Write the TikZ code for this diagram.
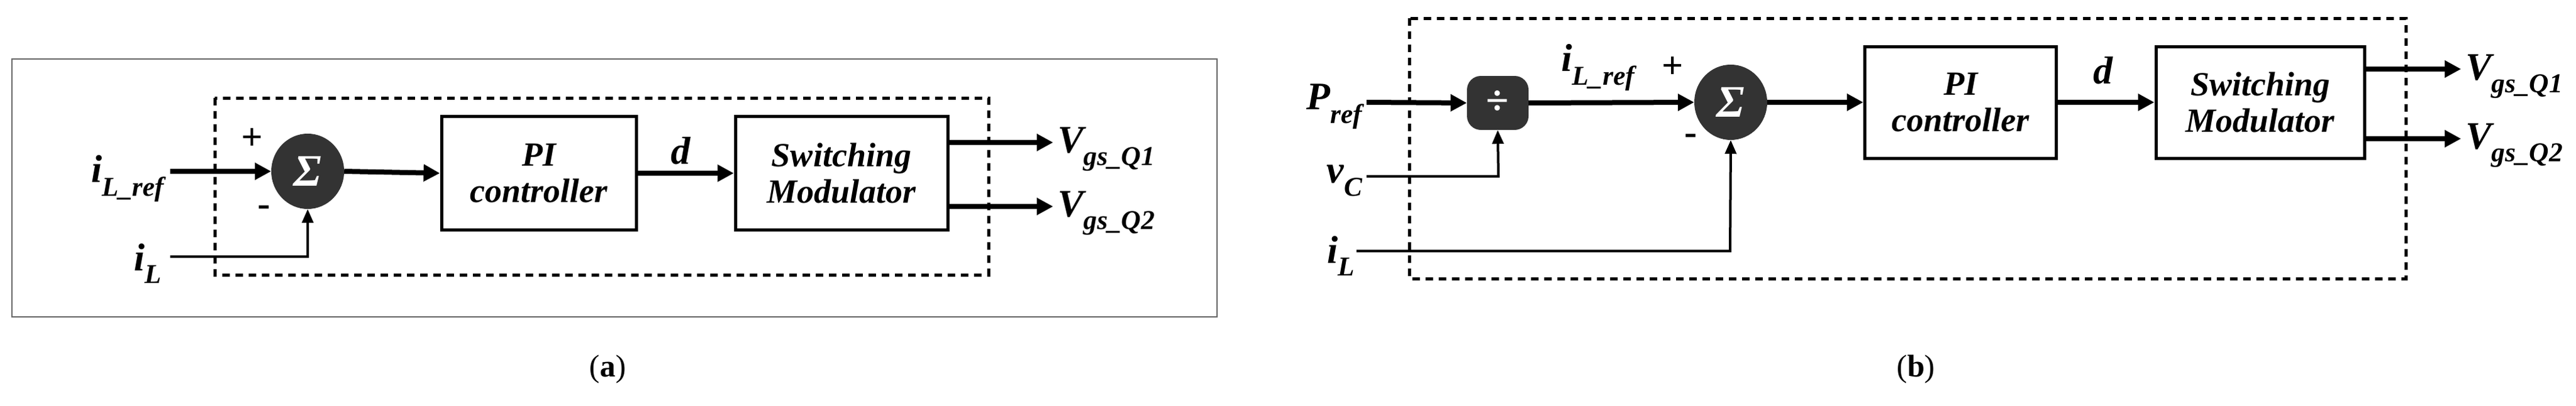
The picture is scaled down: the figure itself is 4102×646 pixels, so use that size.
\documentclass[tikz,border=0pt]{standalone}
\usepackage{fontspec}
\setmainfont{Liberation Serif}
\usetikzlibrary{arrows.meta,shapes.geometric}
\begin{document}
\begin{tikzpicture}[x=1pt,y=-1pt,
  lbl/.style={font=\fontsize{62}{62}\selectfont\bfseries\itshape, inner sep=0},
  blk/.style={draw, line width=5pt, minimum width=#1, minimum height=181pt, align=center,
     font=\fontsize{54}{58}\selectfont\bfseries\itshape},
  sig/.style={ellipse, fill=black!80, minimum width=116pt, minimum height=120pt, inner sep=0,
     text=white, font=\fontsize{72}{72}\selectfont\bfseries\itshape},
  sw/.style={line width=8pt, -{Triangle[length=26pt,width=26pt]}},
  tw/.style={line width=4pt, -{Triangle[length=22pt,width=18pt]}},
  dsh/.style={line width=5pt, dash pattern=on 12pt off 9pt},
  sgn/.style={font=\fontsize{60}{60}\selectfont\bfseries, inner sep=0},
  captxt/.style={font=\fontsize{50}{50}\selectfont, inner sep=0}]
\useasboundingbox (0,0) rectangle (4102,646);
% ---------- (a)
\draw[black!60, line width=2pt] (19,94) rectangle (1938,505);
\draw[dsh] (342,156) rectangle (1574,438);
\node[sig] (sa) at (490,273) {Σ};
\node[blk=310pt] (pia) at (858,276) {PI\\controller};
\node[blk=338pt] (sma) at (1340,276) {Switching\\Modulator};
\coordinate (ia1) at (271,273);
\coordinate (ia2) at (271,409);
\coordinate (ca) at (490,409);
\coordinate (oa1s) at (1509,227);
\coordinate (oa2s) at (1509,329);
\coordinate (oa1) at (1677,227);
\coordinate (oa2) at (1677,329);
\node[lbl, anchor=east] (lia) at (262,285) {i\textsubscript{L\_ref}};
\node[lbl, anchor=east] (lila) at (258,420) {i\textsubscript{L}};
\node[sgn] (pa) at (402,222) {+};
\node[sgn] (ma) at (420,336) {-};
\node[lbl] (da) at (1084,240) {d};
\node[lbl, anchor=west] (va1) at (1684,238) {V\textsubscript{gs\_Q1}};
\node[lbl, anchor=west] (va2) at (1684,340) {V\textsubscript{gs\_Q2}};
\draw[sw] (ia1) -- (sa.west);
\draw[tw] (ia2) -- (ca) -- (sa.south);
\draw[sw] (sa.east) -- (pia.west);
\draw[sw] (pia.east) -- (sma.west);
\draw[sw] (oa1s) -- (oa1);
\draw[sw] (oa2s) -- (oa2);
\node[captxt] (capa) at (968,588) {(\textbf{a})};
% ---------- (b)
\draw[dsh] (2244,29) rectangle (3831,444);
\node[draw=none, fill=black!80, rounded corners=22pt, minimum width=98pt, minimum height=86pt, text=white,
  font=\fontsize{66}{66}\selectfont\bfseries] (dv) at (2385,164) {÷};
\node[sig] (sb) at (2756,163) {Σ};
\node[blk=305pt, minimum height=178pt] (pib) at (3122,163) {PI\\controller};
\node[blk=332pt, minimum height=178pt] (smb) at (3599,163) {Switching\\Modulator};
\coordinate (pb) at (2176,163);
\coordinate (vb) at (2176,281);
\coordinate (vbc) at (2386,281);
\coordinate (ib) at (2160,400);
\coordinate (ibc) at (2755,400);
\coordinate (ob1s) at (3765,110);
\coordinate (ob2s) at (3765,221);
\coordinate (ob1) at (3919,110);
\coordinate (ob2) at (3919,221);
\node[lbl, anchor=east] (lpb) at (2170,170) {P\textsubscript{ref}};
\node[lbl, anchor=east] (lvb) at (2170,288) {v\textsubscript{C}};
\node[lbl, anchor=east] (lib) at (2158,408) {i\textsubscript{L}};
\node[lbl] (lirb) at (2545,108) {i\textsubscript{L\_ref}};
\node[sgn] (pb2) at (2664,108) {+};
\node[sgn] (mb2) at (2692,222) {-};
\node[lbl] (db) at (3349,112) {d};
\node[lbl, anchor=west] (vb1) at (3926,122) {V\textsubscript{gs\_Q1}};
\node[lbl, anchor=west] (vb2) at (3926,232) {V\textsubscript{gs\_Q2}};
\draw[sw] (pb) -- (dv.west);
\draw[tw] (vb) -- (vbc) -- (dv.south);
\draw[sw] (dv.east) -- (sb.west);
\draw[tw] (ib) -- (ibc) -- (sb.south);
\draw[sw] (sb.east) -- (pib.west);
\draw[sw] (pib.east) -- (smb.west);
\draw[sw] (ob1s) -- (ob1);
\draw[sw] (ob2s) -- (ob2);
\node[captxt] (capb) at (3051,588) {(\textbf{b})};
\end{tikzpicture}
\end{document}
